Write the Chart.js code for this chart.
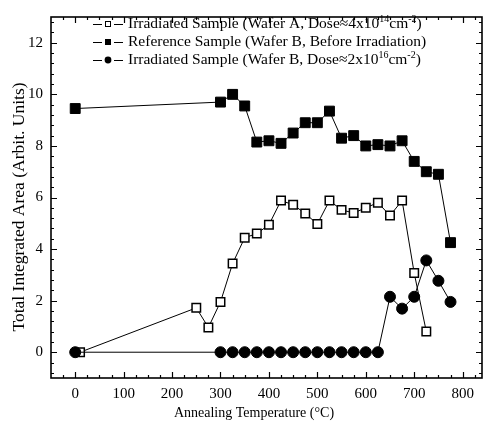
<!DOCTYPE html>
<html>
<head>
<meta charset="utf-8">
<script src="https://cdn.jsdelivr.net/npm/chart.js@4.4.1/dist/chart.umd.min.js"></script>
<style>
  html, body { margin: 0; padding: 0; background: #ffffff; }
  #wrap { width: 490px; height: 433px; }
</style>
</head>
<body>
<div id="wrap"><canvas id="annealChart" width="490" height="433"></canvas></div>
<script>
/* ==========================================
   DATA
========================================== */

const tempsWaferA = [10, 250, 275, 300, 325, 350, 375, 400, 425, 450, 475, 500, 525, 550, 575, 600, 625, 650, 675, 700, 725];
const valuesWaferA = [0, 1.72, 0.96, 1.95, 3.44, 4.44, 4.6, 4.94, 5.88, 5.72, 5.38, 4.97, 5.88, 5.52, 5.4, 5.6, 5.8, 5.3, 5.88, 3.07, 0.8];

const tempsReference = [0, 300, 325, 350, 375, 400, 425, 450, 475, 500, 525, 550, 575, 600, 625, 650, 675, 700, 725, 750, 775];
const valuesReference = [9.45, 9.7, 10.0, 9.55, 8.15, 8.2, 8.1, 8.5, 8.9, 8.9, 9.35, 8.3, 8.4, 8.0, 8.05, 8.0, 8.2, 7.4, 7.0, 6.9, 4.25];

const tempsWaferB = [0, 300, 325, 350, 375, 400, 425, 450, 475, 500, 525, 550, 575, 600, 625, 650, 675, 700, 725, 750, 775];
const valuesWaferB = [0, 0, 0, 0, 0, 0, 0, 0, 0, 0, 0, 0, 0, 0, 0, 2.15, 1.69, 2.15, 3.56, 2.77, 1.95];

const xTicks = [0, 100, 200, 300, 400, 500, 600, 700, 800];
const yTicks = [0, 2, 4, 6, 8, 10, 12];

const xTitle = "Annealing Temperature (\u00B0C)";
const yTitle = "Total Integrated Area (Arbit. Units)";

const legendLabels = [
  ["Irradiated Sample (Wafer A, Dose\u22484x10", "14", "cm", "-2", ")"],
  ["Reference Sample (Wafer B, Before Irradiation)"],
  ["Irradiated Sample (Wafer B, Dose\u22482x10", "16", "cm", "-2", ")"]
];

const SERIF = "'Liberation Serif', 'DejaVu Serif', serif";

function toPoints(xs, ys){
  return xs.map((x, i) => ({ x: x, y: ys[i] }));
}


/* ==========================================
   PLUGINS: frame + inward ticks, titles, legend
========================================== */

const framePlugin = {
  id: "frame",
  afterDraw(chart){
    const c = chart.ctx;
    const a = chart.chartArea;
    const xs = chart.scales.x;
    const ys = chart.scales.y;

    c.save();
    c.strokeStyle = "#000";
    c.lineWidth = 1.6;
    c.strokeRect(a.left, a.top, a.right - a.left, a.bottom - a.top);

    c.lineWidth = 1.2;
    c.beginPath();
    for(let v = -25; v <= xs.max; v += 25){
      if(v < xs.min) continue;
      const px = Math.round(xs.getPixelForValue(v)) + 0.5;
      const len = v % 100 === 0 ? 6 : 3;
      c.moveTo(px, a.bottom); c.lineTo(px, a.bottom - len);
      c.moveTo(px, a.top); c.lineTo(px, a.top + len);
    }
    for(let k = -2; k <= 32; k++){
      const v = k * 0.4;
      if(v < ys.min || v > ys.max) continue;
      const py = Math.round(ys.getPixelForValue(v)) + 0.5;
      const len = k % 5 === 0 ? 6 : 3;
      c.moveTo(a.left, py); c.lineTo(a.left + len, py);
      c.moveTo(a.right, py); c.lineTo(a.right - len, py);
    }
    c.stroke();

    // axis titles
    c.fillStyle = "#000";
    c.textAlign = "center";
    c.textBaseline = "middle";
    c.font = "14px " + SERIF;
    c.fillText(xTitle, 254, 413);

    c.translate(19, 207);
    c.rotate(-Math.PI / 2);
    c.font = "17.5px " + SERIF;
    c.fillText(yTitle, 0, 0);
    c.restore();
  }
};

const legendPlugin = {
  id: "insetLegend",
  afterDraw(chart){
    const c = chart.ctx;
    const rows = [24, 42, 60];
    c.save();
    chart.data.datasets.forEach((ds, i) => {
      const y = rows[i];
      c.strokeStyle = "#000";
      c.lineWidth = 1;
      c.beginPath();
      c.moveTo(93, y + 0.5); c.lineTo(102, y + 0.5);
      c.moveTo(114, y + 0.5); c.lineTo(123, y + 0.5);
      c.stroke();

      c.fillStyle = ds.pointBackgroundColor;
      if(ds.pointStyle === "circle"){
        c.beginPath();
        c.arc(108, y, 3.4, 0, Math.PI * 2);
        c.fill();
      } else if(ds.pointBackgroundColor === "#000"){
        c.fillRect(105, y - 3, 6, 6);
      } else {
        c.lineWidth = 1;
        c.fillStyle = "#fff";
        c.fillRect(105.5, y - 2.5, 5, 5);
        c.strokeRect(105.5, y - 2.5, 5, 5);
      }

      const parts = legendLabels[i];
      let x = 128;
      c.fillStyle = "#000";
      c.textBaseline = "middle";
      parts.forEach((txt, j) => {
        const sup = j % 2 === 1;
        c.font = (sup ? "10px " : "15.5px ") + SERIF;
        c.fillText(txt, x, sup ? y - 5 : y);
        x += c.measureText(txt).width;
      });
    });
    c.restore();
  }
};


/* ==========================================
   CHART
========================================== */

const ctx = document.getElementById("annealChart").getContext("2d");

new Chart(ctx, {
  type: "line",
  data: {
    datasets: [
      {
        label: "Irradiated Sample (Wafer A)",
        data: toPoints(tempsWaferA, valuesWaferA),
        borderColor: "#000",
        borderWidth: 1,
        pointStyle: "rect",
        pointRadius: 6,
        pointBackgroundColor: "#fff",
        pointBorderColor: "#000",
        pointBorderWidth: 1.5,
        tension: 0,
        order: 2
      },
      {
        label: "Reference Sample (Wafer B)",
        data: toPoints(tempsReference, valuesReference),
        borderColor: "#000",
        borderWidth: 1,
        pointStyle: "rect",
        pointRadius: 7,
        pointBackgroundColor: "#000",
        pointBorderColor: "#000",
        pointBorderWidth: 1,
        tension: 0,
        order: 3
      },
      {
        label: "Irradiated Sample (Wafer B)",
        data: toPoints(tempsWaferB, valuesWaferB),
        borderColor: "#000",
        borderWidth: 1,
        pointStyle: "circle",
        pointRadius: 5.5,
        pointBackgroundColor: "#000",
        pointBorderColor: "#000",
        pointBorderWidth: 1,
        tension: 0,
        order: 1
      }
    ]
  },
  options: {
    responsive: false,
    animation: false,
    layout: {
      padding: { top: 14, right: 2, left: 0, bottom: 0 }
    },
    plugins: {
      legend: { display: false },
      tooltip: { enabled: false }
    },
    scales: {
      x: {
        type: "linear",
        min: -50,
        max: 840,
        afterFit: scale => { scale.height = 55; },
        afterBuildTicks: scale => {
          scale.ticks = xTicks.map(v => ({ value: v }));
        },
        grid: { display: false, drawTicks: false },
        border: { display: false },
        ticks: {
          color: "#000",
          padding: 7,
          font: { family: SERIF, size: 15 }
        }
      },
      y: {
        type: "linear",
        min: -1,
        max: 13,
        afterFit: scale => { scale.width = 51; },
        afterBuildTicks: scale => {
          scale.ticks = yTicks.map(v => ({ value: v }));
        },
        grid: { display: false, drawTicks: false },
        border: { display: false },
        ticks: {
          color: "#000",
          padding: 8,
          font: { family: SERIF, size: 15 }
        }
      }
    }
  },
  plugins: [framePlugin, legendPlugin]
});
</script>
</body>
</html>
